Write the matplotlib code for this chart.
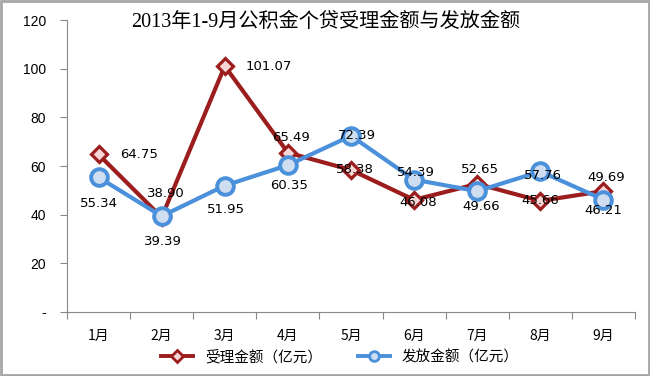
import matplotlib.pyplot as plt
from matplotlib.lines import Line2D
from matplotlib.patches import Rectangle

plt.rcParams['font.family'] = ['DejaVu Sans', 'Noto Sans CJK SC']

months = ['1月', '2月', '3月', '4月', '5月', '6月', '7月', '8月', '9月']
accepted = [64.75, 38.90, 101.07, 65.49, 58.38, 46.08, 52.65, 45.66, 49.69]
issued = [55.34, 39.39, 51.95, 60.35, 72.39, 54.39, 49.66, 57.76, 46.21]
yticks = [0, 20, 40, 60, 80, 100, 120]
ytick_labels = ['-', '20', '40', '60', '80', '100', '120']
title = '2013年1-9月公积金个贷受理金额与发放金额'
names = ['受理金额（亿元）', '发放金额（亿元）']

# label offsets in points (dx, dy), picked by eye
acc_off = [(29, 0), (3, 17), (32, 0), (2, 11), (3, 0), (3, -2), (2, 10), (0, 0), (2, 10)]
iss_off = [(0, -19), (1, -18), (1, -17), (1, -15), (4, 0), (1, 5), (3, -11), (2, -3), (0, -8)]

red = '#9C1D1D'
blue = '#4A90DA'

fig = plt.figure(figsize=(6.5, 3.76), dpi=100)
ax = fig.add_axes([67/650, 1 - 312/376, (635 - 67)/650, (312 - 20)/376])

x = list(range(len(months)))
ax.plot(x, accepted, color=red, lw=3, marker='D', ms=8,
        mfc='#F7D6D6', mec=red, mew=2.3, zorder=3)
ax.plot(x, issued, color=blue, lw=3, marker='o', ms=12,
        mfc='#CFDDF0', mec=blue, mew=2.8, zorder=4)

for i in x:
    ax.annotate(f'{accepted[i]:.2f}', (i, accepted[i]), xytext=acc_off[i],
                textcoords='offset points', ha='center', va='center',
                fontsize=9.5, zorder=5)
    ax.annotate(f'{issued[i]:.2f}', (i, issued[i]), xytext=iss_off[i],
                textcoords='offset points', ha='center', va='center',
                fontsize=9.5, zorder=5)

ax.set_xlim(-0.5, len(months) - 0.5)
ax.set_ylim(0, 120)
ax.set_yticks(yticks)
ax.set_yticklabels(ytick_labels, fontfamily='Liberation Sans', fontsize=10)
ax.set_xticks([i - 0.5 for i in range(len(months) + 1)])
ax.set_xticklabels([])
ax.set_xticks(x, minor=True)
ax.set_xticklabels(months, minor=True, fontfamily='Noto Sans CJK SC', fontsize=10)
ax.tick_params(axis='x', which='minor', length=0, pad=12)
ax.tick_params(axis='x', which='major', length=5, color='#888888')
ax.tick_params(axis='y', length=5, color='#888888', pad=10)
for s in ['top', 'right']:
    ax.spines[s].set_visible(False)
for s in ['left', 'bottom']:
    ax.spines[s].set_color('#888888')

fig.text(326/650, 1 - 22/376, title, ha='center', va='center', fontsize=14.5,
         family=['Liberation Serif', 'Noto Sans CJK SC'])

handles = [
    Line2D([], [], color=red, lw=2.8, marker='D', ms=6, mfc='#F7D6D6', mec=red, mew=2),
    Line2D([], [], color=blue, lw=2.8, marker='o', ms=7, mfc='#CFDDF0', mec=blue, mew=2),
]
fig.legend(handles, names, loc='center', bbox_to_anchor=(340/650, 1 - 357/376),
           ncol=2, frameon=False, handlelength=2.2, columnspacing=2.5,
           prop={'family': 'Noto Sans CJK SC', 'size': 10.5})

fig.patches.append(Rectangle((0.002, 0.003), 0.996, 0.994, transform=fig.transFigure,
                             fill=False, edgecolor='#A6A6A6', lw=2))

fig.savefig('out.png', dpi=100)
